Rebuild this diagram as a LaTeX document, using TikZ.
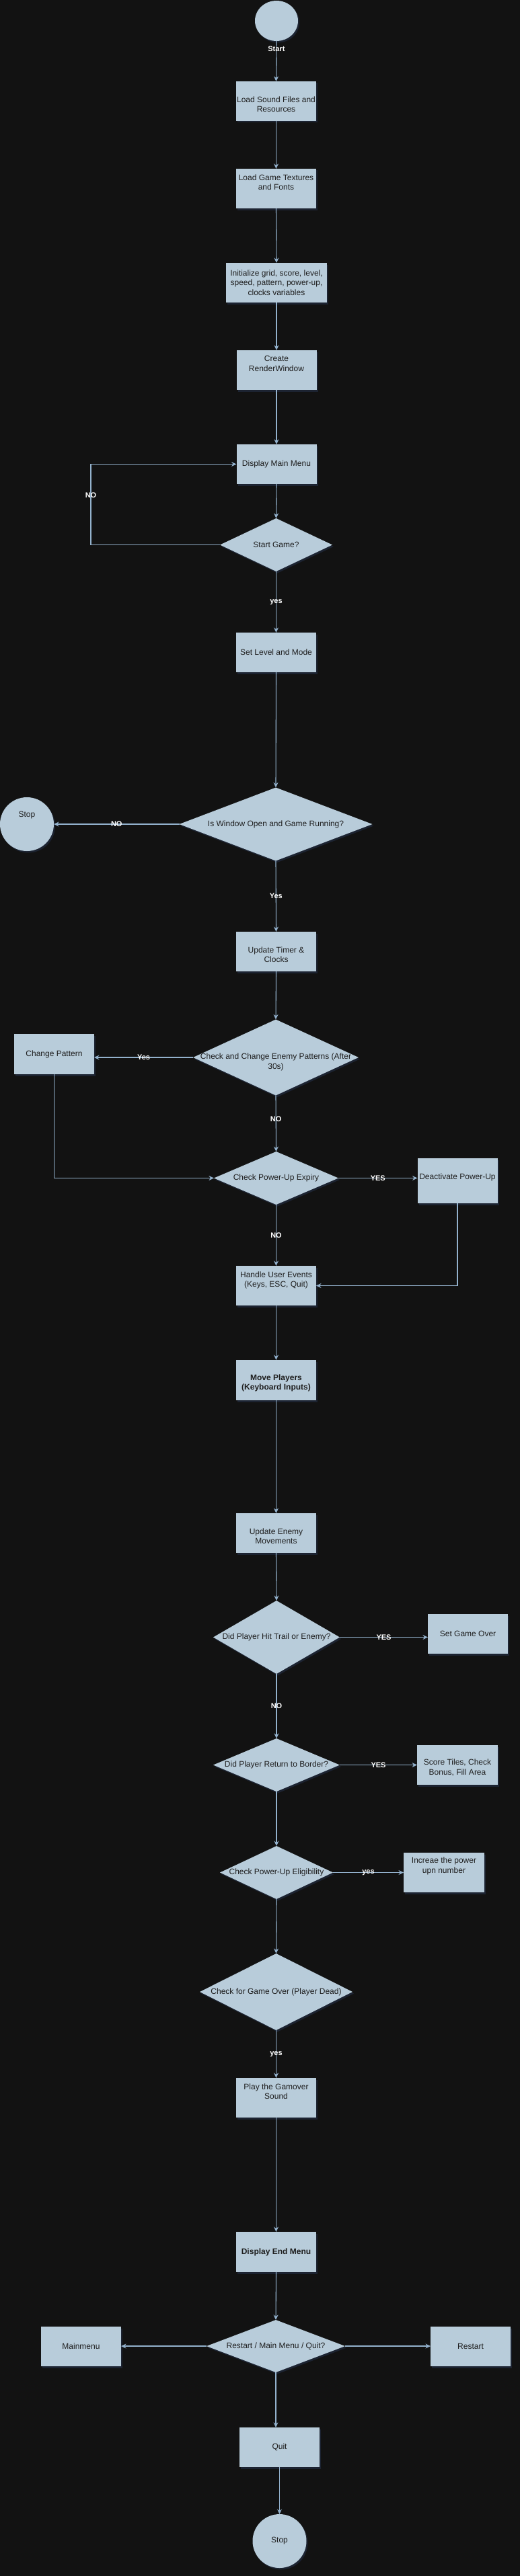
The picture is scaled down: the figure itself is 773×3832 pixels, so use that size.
\documentclass[tikz,border=0pt]{standalone}
\usepackage{fontspec}
\setmainfont{Liberation Sans}
\usetikzlibrary{shapes.geometric,arrows.meta,shadows}
\definecolor{bgc}{HTML}{121212}
\definecolor{nodefill}{HTML}{B8CCDA}
\definecolor{linec}{HTML}{93B1CC}
\definecolor{txtc}{HTML}{1E1E1E}
\definecolor{shc}{HTML}{1E2535}
\begin{document}
\begin{tikzpicture}[x=1pt,y=-1pt,
  base/.style={fill=nodefill, draw=none, inner sep=0pt, outer sep=0pt, text=txtc,
    font=\fontsize{12}{14.4}\selectfont, align=center,
    drop shadow={shadow xshift=2pt,shadow yshift=-2.5pt,fill=shc,opacity=0.9}},
  boxn/.style={base, rectangle, minimum width=119pt, minimum height=59pt},
  dia/.style={base, diamond},
  circ/.style={base, ellipse},
  ntxt/.style={text=txtc, font=\fontsize{12}{14.4}\selectfont, align=center, inner sep=0pt},
  btxt/.style={ntxt, font=\bfseries\fontsize{12}{14.4}\selectfont},
  bnode/.style={font=\bfseries\fontsize{12}{14.4}\selectfont},
  arr/.style={draw=linec, line width=1.1pt, -{Stealth[length=7.5pt,width=7pt,inset=2.5pt]}},
  elab/.style={text=white, font=\bfseries\fontsize{11}{13}\selectfont, inner sep=0pt},
]
\useasboundingbox (0,0) rectangle (773,3832);
\fill[bgc] (0,0) rectangle (773,3832);

% nodes
\node[circ, minimum width=64pt, minimum height=60pt] (start) at (411,31) {};
\node[boxn, label={[ntxt,yshift=-5pt]center:{Load Sound Files and\\Resources}}] (ls) at (410.5,150.5) {};
\node[boxn, label={[ntxt,yshift=9.5pt]center:{Load Game Textures\\and Fonts}}] (lt) at (410.5,280.5) {};
\node[boxn, minimum width=150pt] (init) at (411,420.5) {Initialize grid, score, level,\\speed, pattern, power-up,\\clocks variables};
\node[boxn, label={[ntxt,yshift=9.5pt]center:{Create\\RenderWindow}}] (crw) at (411,550.5) {};
\node[boxn] (mm) at (411,690.5) {Display Main Menu};
\node[dia, minimum width=167pt, minimum height=79pt, label={[ntxt]center:{Start Game?}}] (sg) at (410.5,810.5) {};
\node[boxn] (sl) at (410.5,970.5) {Set Level and Mode};
\node[dia, minimum width=287pt, minimum height=109pt, label={[ntxt]center:{Is Window Open and Game Running?}}] (iw) at (410,1226) {};
\node[circ, minimum size=80pt, label={[ntxt,yshift=13pt]center:{Stop}}] (stopl) at (40,1226) {};
\node[boxn, label={[ntxt,yshift=-4.5pt]center:{Update Timer \&\\Clocks}}] (ut) at (410.5,1415.5) {};
\node[dia, minimum width=246pt, minimum height=113pt, label={[ntxt,yshift=-7pt]center:{Check and Change Enemy Patterns (After\\30s)}}] (cpat) at (410,1573) {};
\node[boxn, minimum height=60pt] (chp) at (80.5,1568) {Change Pattern};
\node[dia, minimum width=185pt, minimum height=79pt, label={[ntxt]center:{Check Power-Up Expiry}}] (pe) at (410.5,1752.5) {};
\node[boxn, minimum height=67pt, label={[ntxt,yshift=5pt]center:{Deactivate Power-Up}}] (dp) at (680,1756.5) {};
\node[boxn, label={[ntxt,yshift=8pt]center:{Handle User Events\\(Keys, ESC, Quit)}}] (he) at (410.5,1912.5) {};
\node[boxn, minimum height=60pt, label={[btxt,yshift=-4.5pt]center:{Move Players\\(Keyboard Inputs)}}] (mp) at (410.5,2053) {};
\node[boxn, label={[ntxt,yshift=-4.5pt]center:{Update Enemy\\Movements}}] (ue) at (410.5,2280.5) {};
\node[dia, minimum width=188pt, minimum height=109pt, label={[ntxt]center:{Did Player Hit Trail or Enemy?}}] (hit) at (411,2435.5) {};
\node[boxn] (sgo) at (695.5,2430.5) {Set Game Over};
\node[dia, minimum width=188pt, minimum height=79pt, label={[ntxt]center:{Did Player Return to Border?}}] (ret) at (411,2625.5) {};
\node[boxn, minimum width=120pt, label={[ntxt,yshift=-4pt]center:{Score Tiles, Check\\Bonus, Fill Area}}] (score) at (680,2625.5) {};
\node[dia, minimum width=168pt, minimum height=79pt, label={[ntxt]center:{Check Power-Up Eligibility}}] (elig) at (411,2785.5) {};
\node[boxn, minimum width=120pt, label={[ntxt,yshift=9.5pt]center:{Increae the power\\upn number}}] (inc) at (660,2785.5) {};
\node[dia, minimum width=227pt, minimum height=114pt, label={[ntxt]center:{Check for Game Over (Player Dead)}}] (goc) at (410.5,2963) {};
\node[boxn, label={[ntxt,yshift=9.5pt]center:{Play the Gamover\\Sound}}] (play) at (410.5,3120.5) {};
\node[boxn, minimum height=60pt, bnode] (em) at (410.5,3350) {Display End Menu};
\node[dia, minimum width=206pt, minimum height=78pt, label={[ntxt]center:{Restart / Main Menu / Quit?}}] (rmq) at (410,3490) {};
\node[boxn] (mmenu) at (120.5,3490.5) {Mainmenu};
\node[boxn] (rst) at (699.5,3490.5) {Restart};
\node[boxn] (quit) at (415.5,3640.5) {Quit};
\node[circ, minimum size=80pt] (stopb) at (415.5,3780) {Stop};

% connectors
\draw[arr] (start.south) -- node[elab,pos=0.2]{Start} (ls.north);
\draw[arr] (ls.south) -- (lt.north);
\draw[arr] (lt.south) -- (init.north);
\draw[arr] (init.south) -- (crw.north);
\draw[arr] (crw.south) -- (mm.north);
\draw[arr] (mm.south) -- (sg.north);
\coordinate (nl) at (135,737);
\draw[arr] (sg.west) -| (nl) node[elab]{NO} |- (mm.west);
\draw[arr] (sg.south) -- node[elab]{yes} (sl.north);
\draw[arr] (sl.south) -- (iw.north);
\draw[arr] (iw.west) -- node[elab]{NO} (stopl.east);
\draw[arr] (iw.south) -- node[elab]{Yes} (ut.north);
\draw[arr] (ut.south) -- (cpat.north);
\draw[arr] (cpat.west) -- node[elab]{Yes} (cpat.west -| chp.east);
\draw[arr] (chp.south) |- (pe.west);
\draw[arr] (cpat.south) -- node[elab,pos=0.42]{NO} (pe.north);
\draw[arr] (pe.east) -- node[elab]{YES} (pe.east -| dp.west);
\draw[arr] (dp.south) |- (he.east);
\draw[arr] (pe.south) -- node[elab]{NO} (he.north);
\draw[arr] (he.south) -- (mp.north);
\draw[arr] (mp.south) -- (ue.north);
\draw[arr] (ue.south) -- (hit.north);
\draw[arr] (hit.east) -- node[elab]{YES} (hit.east -| sgo.west);
\draw[arr] (hit.south) -- node[elab]{NO} (ret.north);
\draw[arr] (ret.east) -- node[elab]{YES} (ret.east -| score.west);
\draw[arr] (ret.south) -- (elig.north);
\draw[arr] (elig.east) -- node[elab]{yes} (elig.east -| inc.west);
\draw[arr] (elig.south) -- (goc.north);
\draw[arr] (goc.south) -- node[elab]{yes} (play.north);
\draw[arr] (play.south) -- (em.north);
\draw[arr] (em.south) -- (rmq.north);
\draw[arr] (rmq.west) -- (rmq.west -| mmenu.east);
\draw[arr] (rmq.east) -- (rmq.east -| rst.west);
\draw[arr] (rmq.south) -- (rmq.south |- quit.north);
\draw[arr] (quit.south) -- (stopb.north);
\end{tikzpicture}
\end{document}
